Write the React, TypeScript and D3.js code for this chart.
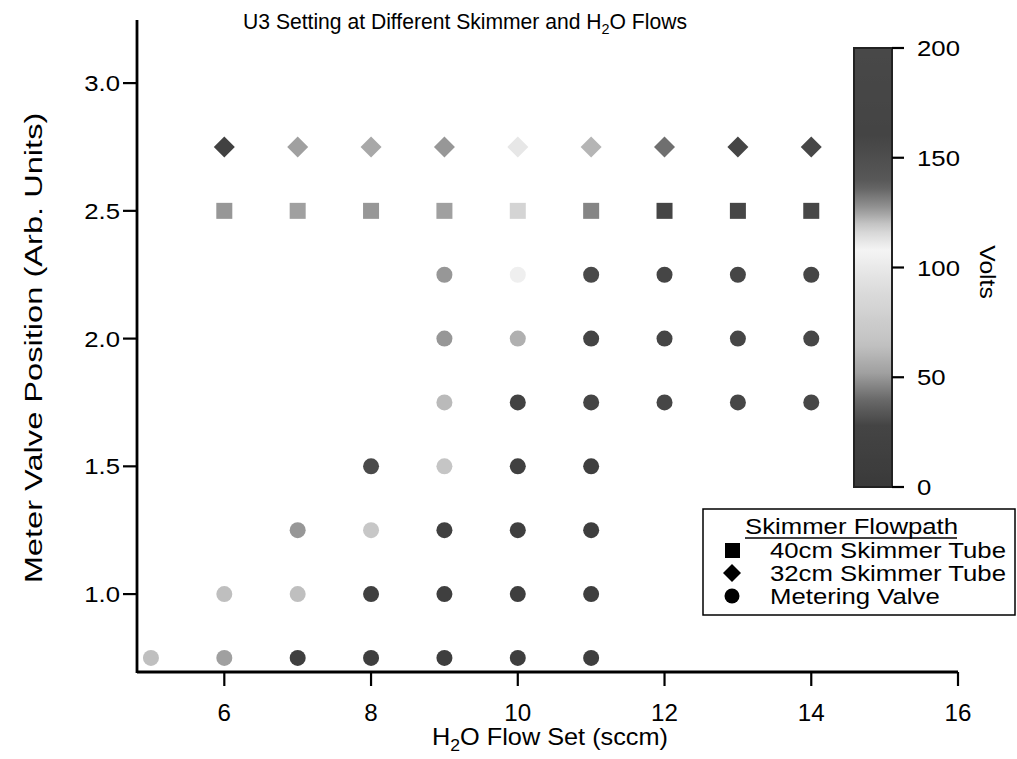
import React, { useEffect } from 'react';
import * as d3 from 'd3';

// Skimmer tube data (flow in sccm, meter position, U3 volts)
const flowSq = [6, 7, 8, 9, 10, 11, 12, 13, 14];
const posSq = [2.5, 2.5, 2.5, 2.5, 2.5, 2.5, 2.5, 2.5, 2.5];
const voltSq = [50, 52, 50, 52, 82, 130, 170, 180, 190];

const flowDia = [6, 7, 8, 9, 10, 11, 12, 13, 14];
const posDia = [2.75, 2.75, 2.75, 2.75, 2.75, 2.75, 2.75, 2.75, 2.75];
const voltDia = [20, 52, 55, 50, 98, 122, 134, 170, 185];

// Metering valve
const flowMv = [
  5, 6, 7, 8, 9, 10, 11,
  6, 7, 8, 9, 10, 11,
  7, 8, 9, 10, 11,
  8, 9, 10, 11,
  9, 10, 11, 12, 13, 14,
  9, 10, 11, 12, 13, 14,
  9, 10, 11, 12, 13, 14,
];
const posMv = [
  0.75, 0.75, 0.75, 0.75, 0.75, 0.75, 0.75,
  1.0, 1.0, 1.0, 1.0, 1.0, 1.0,
  1.25, 1.25, 1.25, 1.25, 1.25,
  1.5, 1.5, 1.5, 1.5,
  1.75, 1.75, 1.75, 1.75, 1.75, 1.75,
  2.0, 2.0, 2.0, 2.0, 2.0, 2.0,
  2.25, 2.25, 2.25, 2.25, 2.25, 2.25,
];
const voltMv = [
  64, 52, 14, 12, 12, 10, 10,
  64, 64, 16, 14, 12, 10,
  50, 70, 16, 14, 12,
  30, 68, 16, 14,
  62, 22, 165, 175, 180, 185,
  50, 58, 160, 170, 178, 185,
  50, 104, 155, 168, 175, 182,
];

const xTicks = [6, 8, 10, 12, 14, 16];
const yTicks = [1.0, 1.5, 2.0, 2.5, 3.0];
const cbTicks = [0, 50, 100, 150, 200];
const legendLabels = ['40cm Skimmer Tube', '32cm Skimmer Tube', 'Metering Valve'];

const FONT = '"Liberation Sans", Arial, sans-serif';

// text with a horizontal stretch, the scan is wider than plain Arial
const T = ({ x, y, size, sx = 1, rot = 0, anchor = 'start', children }: any) => (
  <text
    transform={`translate(${x},${y}) rotate(${rot}) scale(${sx},1)`}
    fontSize={size}
    textAnchor={anchor}
  >
    {children}
  </text>
);

export default function App() {
  useEffect(() => {
    document.body.style.margin = '0';
  }, []);

  const width = 1017;
  const height = 759;

  const x = d3.scaleLinear().domain([4.81, 16]).range([137, 958]);
  const y = d3.scaleLinear().domain([0.695, 3.247]).range([672, 20]);

  // grey colour table, light in the middle, dark at both ends
  const color = d3.scaleLinear<string>()
    .domain([0, 28, 40, 52, 65, 90, 108, 118, 126, 138, 160, 200])
    .range(['#3a3a3a', '#444', '#6a6a6a', '#a0a0a0', '#c2c2c2', '#dcdcdc', '#f4f4f4',
      '#d0d0d0', '#9a9a9a', '#5a5a5a', '#444', '#484848'])
    .clamp(true);

  const cb = d3.scaleLinear().domain([0, 200]).range([487, 48]);
  const cbX = 854;
  const cbW = 38;
  const gradStops = d3.range(0, 201, 4);

  const diamond = (cx: number, cy: number, r: number) =>
    `M${cx},${cy - r}L${cx + r},${cy}L${cx},${cy + r}L${cx - r},${cy}Z`;

  const mv = flowMv.map((f, i) => ({ f, p: posMv[i], v: voltMv[i] }));
  const sq = flowSq.map((f, i) => ({ f, p: posSq[i], v: voltSq[i] }));
  const dia = flowDia.map((f, i) => ({ f, p: posDia[i], v: voltDia[i] }));

  const legY = [550, 573, 596];

  return (
    <svg width={width} height={height} style={{ display: 'block', background: '#fff' }} fontFamily={FONT}>
      <defs>
        <linearGradient id="cbGrad" x1="0" y1="1" x2="0" y2="0">
          {gradStops.map(v => (
            <stop key={v} offset={`${v / 2}%`} stopColor={color(v)} />
          ))}
        </linearGradient>
      </defs>

      {/* title */}
      <T x={465} y={29} size={22} sx={0.96} anchor="middle">
        U3 Setting at Different Skimmer and H<tspan fontSize={15} dy={5}>2</tspan><tspan dy={-5}>O Flows</tspan>
      </T>

      {/* axes */}
      <line x1={x(4.81)} x2={x(16)} y1={672} y2={672} stroke="#000" strokeWidth={2.8} />
      <line x1={137} x2={137} y1={y(3.247)} y2={673} stroke="#000" strokeWidth={2.8} />
      {xTicks.map(t => (
        <g key={t}>
          <line x1={x(t)} x2={x(t)} y1={672} y2={686} stroke="#000" strokeWidth={2.2} />
          <T x={x(t)} y={721} size={23} sx={1.05} anchor="middle">{t}</T>
        </g>
      ))}
      {yTicks.map(t => (
        <g key={t}>
          <line x1={123} x2={137} y1={y(t)} y2={y(t)} stroke="#000" strokeWidth={2.2} />
          <T x={120} y={y(t) + 8} size={23} sx={1.12} anchor="end">{d3.format('.1f')(t)}</T>
        </g>
      ))}
      <T x={550} y={745} size={23} sx={1.1} anchor="middle">
        H<tspan fontSize={16} dy={6}>2</tspan><tspan dy={-6}>O Flow Set (sccm)</tspan>
      </T>
      <T x={42} y={348} size={24} sx={1.36} rot={-90} anchor="middle">
        Meter Valve Position (Arb. Units)
      </T>

      {/* points */}
      {mv.map((d, i) => (
        <circle key={'c' + i} cx={x(d.f)} cy={y(d.p)} r={8} fill={color(d.v)} />
      ))}
      {sq.map((d, i) => (
        <rect key={'s' + i} x={x(d.f) - 8} y={y(d.p) - 8} width={16} height={16} fill={color(d.v)} />
      ))}
      {dia.map((d, i) => (
        <path key={'d' + i} d={diamond(x(d.f), y(d.p), 10.5)} fill={color(d.v)} />
      ))}

      {/* colour scale */}
      <rect x={cbX} y={cb(200)} width={cbW} height={cb(0) - cb(200)} fill="url(#cbGrad)" stroke="#222" strokeWidth={2} />
      {cbTicks.map(t => (
        <g key={t}>
          <line x1={cbX + cbW} x2={cbX + cbW + 12} y1={cb(t)} y2={cb(t)} stroke="#000" strokeWidth={2.2} />
          <T x={cbX + cbW + 25} y={cb(t) + 8} size={23} sx={1.12}>{t}</T>
        </g>
      ))}
      <T x={980} y={272} size={22} sx={1.12} rot={90} anchor="middle">Volts</T>

      {/* legend */}
      <rect x={703} y={509} width={312} height={106} fill="#fff" stroke="#000" strokeWidth={1.5} />
      <T x={745} y={534} size={22} sx={1.17}>Skimmer Flowpath</T>
      <line x1={745} x2={957} y1={538} y2={538} stroke="#000" strokeWidth={1.6} />
      <rect x={725} y={legY[0] - 7} width={15} height={15} fill="#000" />
      <path d={diamond(732, legY[1], 9)} fill="#000" />
      <circle cx={732} cy={legY[2]} r={7.5} fill="#000" />
      {legendLabels.map((l, i) => (
        <T key={l} x={770} y={legY[i] + 8} size={22} sx={1.17}>{l}</T>
      ))}
    </svg>
  );
}
